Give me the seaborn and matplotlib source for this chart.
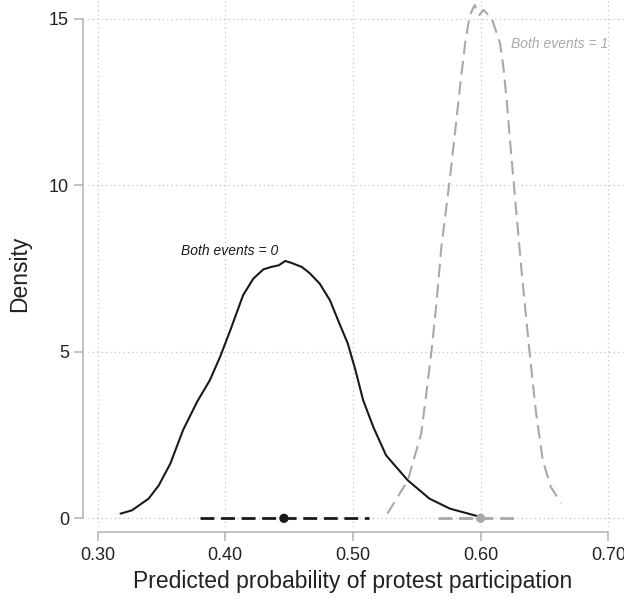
import numpy as np
import pandas as pd
import seaborn as sns
import matplotlib.pyplot as plt

#///// Data
# Density curve, both events = 0
black_x = [0.318, 0.327, 0.340, 0.348, 0.357, 0.367, 0.378, 0.388, 0.396, 0.404,
           0.414, 0.422, 0.430, 0.436, 0.442, 0.447, 0.452, 0.460, 0.466, 0.474,
           0.482, 0.490, 0.496, 0.502, 0.508, 0.516, 0.526, 0.543, 0.560, 0.576, 0.600]
black_y = [0.14, 0.24, 0.59, 0.99, 1.64, 2.65, 3.50, 4.15, 4.85, 5.65,
           6.70, 7.20, 7.48, 7.55, 7.60, 7.73, 7.67, 7.55, 7.37, 7.05,
           6.55, 5.80, 5.25, 4.45, 3.55, 2.74, 1.89, 1.14, 0.59, 0.29, 0.04]
# Density curve, both events = 1
gray_x = [0.527, 0.543, 0.5535, 0.5575, 0.5615, 0.5654, 0.5693, 0.5758, 0.580, 0.584,
          0.588, 0.5915, 0.5953, 0.599, 0.6023, 0.6087, 0.6152, 0.6178, 0.6204, 0.623,
          0.6269, 0.6318, 0.6383, 0.6435, 0.6487, 0.655, 0.663]
gray_y = [0.14, 1.14, 2.55, 3.75, 5.00, 6.45, 8.15, 10.16, 11.6, 13.0,
          14.3, 15.1, 15.42, 15.12, 15.27, 15.02, 14.27, 13.57, 12.57, 11.36,
          9.66, 7.55, 5.00, 3.15, 1.74, 0.94, 0.46]
# Confidence intervals and point estimates
black_ci = [0.380, 0.513]
black_pt = 0.446
gray_ci = [0.567, 0.630]
gray_pt = 0.600

xticks = [0.30, 0.40, 0.50, 0.60, 0.70]
xtick_labels = ['0.30', '0.40', '0.50', '0.60', '0.70']
yticks = [0, 5, 10, 15]

dark = '#1a1a1a'
gray = '#a9a9aa'
spine_gray = '#b2b2b4'

#///// Style
sns.set_theme(style='white')
plt.rcParams['font.family'] = ['Liberation Sans', 'DejaVu Sans']

fig = plt.figure(figsize=(6.24, 5.99), dpi=100)
ax = fig.add_axes([88 / 624, 72 / 599, 536 / 624, 527 / 599])

# Grid
ax.set_xticks(xticks)
ax.set_yticks(yticks)
ax.grid(True, color='#c4c4c4', linewidth=0.9, linestyle=(0, (1, 2.5)))
ax.set_axisbelow(True)

# Curves
sns.lineplot(x=black_x, y=black_y, ax=ax, color=dark, linewidth=1.5, sort=False, estimator=None)
sns.lineplot(x=gray_x, y=gray_y, ax=ax, color=gray, linewidth=1.5, sort=False, estimator=None)
ax.lines[-1].set_dashes((6.5, 3.3))

# CI segments at zero
sns.lineplot(x=black_ci, y=[0, 0], ax=ax, color=dark, linewidth=2.0, sort=False, estimator=None)
ax.lines[-1].set_dashes((5.0, 2.4))
sns.lineplot(x=gray_ci, y=[0, 0], ax=ax, color=gray, linewidth=2.0, sort=False, estimator=None)
ax.lines[-1].set_dashes((5.0, 2.4))
sns.scatterplot(x=[black_pt], y=[0], ax=ax, color=dark, s=45, edgecolor='none', zorder=5)
sns.scatterplot(x=[gray_pt], y=[0], ax=ax, color=gray, s=45, edgecolor='none', zorder=5)

# Labels on curves
ax.text(0.3654, 8.03, 'Both events = 0', style='italic', fontsize=10, color=dark, va='center', ha='left')
ax.text(0.6236, 14.25, 'Both events = 1', style='italic', fontsize=10, color=gray, va='center', ha='left')

# Limits
ax.set_xlim(0.29256, 0.71230)
ax.set_ylim(-0.261, 15.569)

# Spines Stata-style
for side in ['top', 'right']:
    ax.spines[side].set_visible(False)
ax.spines['left'].set_position(('outward', 3.8))
ax.spines['bottom'].set_position(('outward', 3.8))
ax.spines['left'].set_bounds(0, 15)
ax.spines['bottom'].set_bounds(0.30, 0.70)
for side in ['left', 'bottom']:
    ax.spines[side].set_color(spine_gray)
    ax.spines[side].set_linewidth(1.1)

ax.set_xticklabels(xtick_labels)
ax.tick_params(axis='x', bottom=True, length=6.8, width=1.1, color=spine_gray, labelsize=13, labelcolor='#222222', pad=4)
ax.tick_params(axis='y', left=True, length=6.3, width=1.1, color=spine_gray, labelsize=13, labelcolor='#222222', pad=3.5)

ax.set_xlabel('Predicted probability of protest participation', fontsize=16.5, color='#222222')
ax.set_ylabel('Density', fontsize=16.5, color='#222222')
ax.xaxis.set_label_coords(0.5 + (353 - 356) / 536, -0.0816)
ax.yaxis.set_label_coords(-0.106, 0.48)

plt.savefig('out.png', dpi=100)
